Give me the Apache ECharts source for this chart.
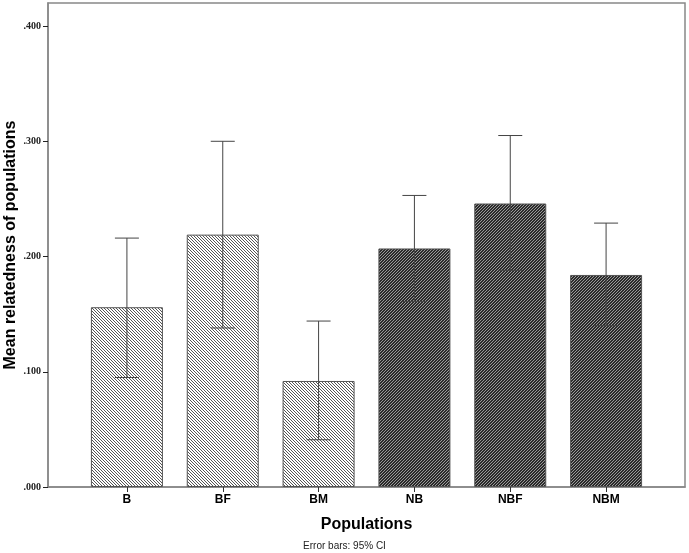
<!DOCTYPE html>
<html><head><meta charset="utf-8">
<script src="https://cdn.jsdelivr.net/npm/echarts@6/dist/echarts.min.js"></script>
<style>html,body{margin:0;padding:0;background:#fff}#c{width:689px;height:553px}</style>
</head><body><div id="c"></div>
<script>
const categories = ['B','BF','BM','NB','NBF','NBM'];
const means = [0.156, 0.219, 0.092, 0.207, 0.246, 0.184];
const ciLow = [0.095, 0.138, 0.041, 0.161, 0.188, 0.140];
const ciHigh = [0.216, 0.300, 0.144, 0.253, 0.305, 0.229];
const groupType = ['light','light','light','dark','dark','dark'];
const yTicks = [0, 0.1, 0.2, 0.3, 0.4];

function makePattern(bg, fg, dir){
  const n = 3;
  const c = document.createElement('canvas'); c.width = n; c.height = n;
  const g = c.getContext('2d');
  g.fillStyle = bg; g.fillRect(0,0,n,n);
  g.fillStyle = fg;
  for (let i=0;i<n;i++){
    const x = dir === 'back' ? i : n - 1 - i;
    g.fillRect(x, i, 1, 1);
  }
  return c;
}
const lightPat = {image: makePattern('#ffffff', '#555555', 'back'), repeat: 'repeat'};
const darkPat = {image: makePattern('#2b2b2b', '#9a9a9a', 'fwd'), repeat: 'repeat'};

const chart = echarts.init(document.getElementById('c'), null, {renderer: 'canvas'});
const axisCol = '#888';
chart.setOption({
  animation: false,
  grid: [
    {left: 48, right: 4, top: 3, bottom: 66, show: true, borderColor: axisCol, borderWidth: 1.5, backgroundColor: 'transparent', containLabel: false, outerBoundsMode: 'none'},
    {left: 79, right: 35, top: 3, bottom: 66, containLabel: false, outerBoundsMode: 'none'}
  ],
  xAxis: [
    {gridIndex: 0, type: 'value', min: 0, max: 1,
     axisLine: {show: true, onZero: false, lineStyle: {color: axisCol, width: 1.5}},
     axisTick: {show: false}, axisLabel: {show: false}, splitLine: {show: false},
     name: 'Populations', nameLocation: 'middle', nameGap: 30,
     nameTextStyle: {fontFamily: 'Liberation Sans', fontWeight: 'bold', fontSize: 16, color: '#000'}},
    {gridIndex: 1, type: 'category', data: categories,
     axisLine: {show: false},
     axisTick: {show: true, alignWithLabel: true, length: 5, lineStyle: {color: '#333'}},
     axisLabel: {fontFamily: 'Liberation Sans', fontWeight: 'bold', fontSize: 12, color: '#000', margin: 7}}
  ],
  yAxis: [
    {gridIndex: 0, type: 'value', min: 0, max: 0.42,
     axisLine: {show: true, lineStyle: {color: axisCol, width: 1.5}},
     axisTick: {show: true, length: 5, customValues: yTicks, lineStyle: {color: '#222', width: 1}},
     axisLabel: {customValues: yTicks, fontFamily: 'Liberation Serif', fontWeight: 'bold', fontSize: 10, color: '#222', margin: 7,
       formatter: v => v.toFixed(3).replace(/^0/, '')},
     splitLine: {show: false}},
    {gridIndex: 1, type: 'value', min: 0, max: 0.42, show: false}
  ],
  series: [
    {type: 'bar', xAxisIndex: 1, yAxisIndex: 1, barWidth: 72,
     data: means.map((v, i) => ({value: v, itemStyle: {color: groupType[i] === 'light' ? lightPat : darkPat}})),
     itemStyle: {borderColor: '#555', borderWidth: 1}},
    {type: 'custom', xAxisIndex: 1, yAxisIndex: 1, z: 5,
     data: categories.map((c, i) => [i, ciLow[i], ciHigh[i]]),
     renderItem: function(params, api){
       const x = api.coord([api.value(0), 0])[0];
       const lo = api.coord([api.value(0), api.value(1)])[1];
       const hi = api.coord([api.value(0), api.value(2)])[1];
       const hw = 12;
       const st = {stroke: '#444', lineWidth: 1};
       return {type: 'group', children: [
         {type: 'line', shape: {x1: x, y1: hi, x2: x, y2: lo}, style: st},
         {type: 'line', shape: {x1: x - hw, y1: hi, x2: x + hw, y2: hi}, style: st},
         {type: 'line', shape: {x1: x - hw, y1: lo, x2: x + hw, y2: lo}, style: st}
       ]};
     }}
  ],
  graphic: [
    {type: 'text', left: 'center', top: 541,
     style: {text: 'Error bars: 95% CI', fontFamily: 'Liberation Sans', fontSize: 10, fill: '#222'}},
    {type: 'text', x: 11, y: 245, rotation: Math.PI / 2,
     style: {text: 'Mean relatedness of populations', fontFamily: 'Liberation Sans', fontWeight: 'bold', fontSize: 16,
       fill: '#000', align: 'center', verticalAlign: 'middle'}}
  ]
});
</script></body></html>
